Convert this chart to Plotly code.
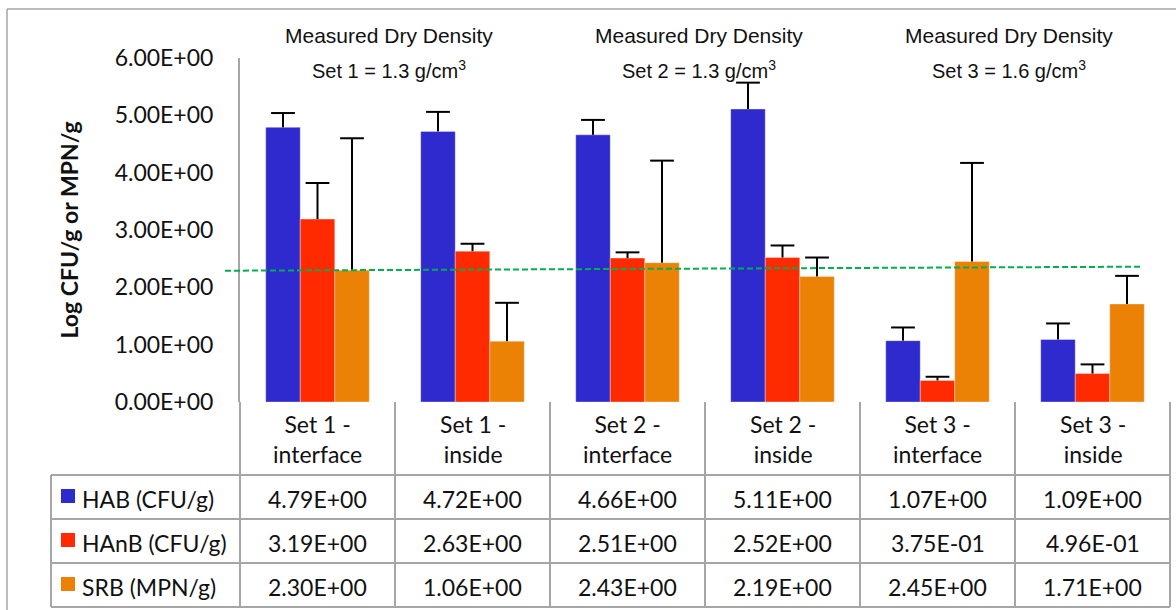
import plotly.graph_objects as go

# ---- data -------------------------------------------------------------
categories = ["Set 1 - interface", "Set 1 - inside", "Set 2 - interface",
              "Set 2 - inside", "Set 3 - interface", "Set 3 - inside"]
category_lines = [("Set 1 -", "interface"), ("Set 1 -", "inside"),
                  ("Set 2 -", "interface"), ("Set 2 -", "inside"),
                  ("Set 3 -", "interface"), ("Set 3 -", "inside")]

series_names = ["HAB (CFU/g)", "HAnB (CFU/g)", "SRB (MPN/g)"]
hab = [4.79, 4.72, 4.66, 5.11, 1.07, 1.09]
hanb = [3.19, 2.63, 2.51, 2.52, 0.375, 0.496]
srb = [2.30, 1.06, 2.43, 2.19, 2.45, 1.71]

hab_err = [0.25, 0.34, 0.26, 0.46, 0.23, 0.28]
hanb_err = [0.63, 0.13, 0.10, 0.21, 0.065, 0.16]
srb_err = [2.30, 0.67, 1.78, 0.33, 1.72, 0.49]

density_titles = ["Set 1 = 1.3 g/cm<sup>3</sup>",
                  "Set 2 = 1.3 g/cm<sup>3</sup>",
                  "Set 3 = 1.6 g/cm<sup>3</sup>"]

reference_level = [2.29, 2.36]   # dashed guide line (left end, right end)

y_ticks = [0, 1, 2, 3, 4, 5, 6]

colors = ["#2E2ACE", "#FF2A00", "#EC8205"]
values = [hab, hanb, srb]
errors = [hab_err, hanb_err, srb_err]

# ---- page geometry (pixels) ------------------------------------------
W, H = 1176, 610
PLOT_L, PLOT_R, PLOT_T, PLOT_B = 240, 1170, 58, 402
ROW_LINES = [475, 519, 563, 607]        # table row boundaries below the axis
LEGEND_L = 51
GRID = "#A6A6A6"
CAL = "Lato"
ARIAL = "Liberation Sans"
BAR_GAP = 0.332


def py(p):
    """pixel row -> paper y"""
    return (PLOT_B - p) / (PLOT_B - PLOT_T)


def px(p):
    """pixel column -> paper x"""
    return (p - PLOT_L) / (PLOT_R - PLOT_L)


fig = go.Figure()

# bars with upward-only error stems (caps added separately, top end only)
for name, vals, errs, col in zip(series_names, values, errors, colors):
    fig.add_trace(go.Bar(
        x=categories, y=vals, name=name, offsetgroup=name,
        marker=dict(color=col, line=dict(color="rgba(255,255,255,0.35)", width=1)),
        error_y=dict(type="data", array=errs, symmetric=False, arrayminus=[0] * len(errs),
                     color="black", thickness=2, width=0),
    ))

# caps at the top of each error stem, grouped the same way as the bars
for name, vals, errs in zip(series_names, values, errors):
    fig.add_trace(go.Scatter(
        x=categories, y=[v + e for v, e in zip(vals, errs)],
        mode="markers", offsetgroup=name, showlegend=False, hoverinfo="skip",
        marker=dict(symbol="line-ew", size=17, color="black",
                    line=dict(color="black", width=2)),
    ))

shapes = []
annotations = []
n = len(categories)

# outer chart frame (top and left edges)
shapes.append(dict(type="line", xref="paper", yref="paper",
                   x0=px(7), x1=px(W + 5), y0=py(9), y1=py(9),
                   line=dict(color=GRID, width=1.5)))
shapes.append(dict(type="line", xref="paper", yref="paper",
                   x0=px(7), x1=px(7), y0=py(9), y1=py(H + 5),
                   line=dict(color=GRID, width=1.5)))

# dashed reference line across the groups
shapes.append(dict(type="line", xref="paper", yref="y",
                   x0=px(225), x1=px(1143),
                   y0=reference_level[0], y1=reference_level[1],
                   line=dict(color="#00B050", width=2, dash="6px,3px")))

# data table: vertical separators at category boundaries
for k in range(n + 1):
    shapes.append(dict(type="line", xref="paper", yref="paper",
                       x0=k / n, x1=k / n, y0=0, y1=py(ROW_LINES[-1]),
                       line=dict(color=GRID, width=2)))
# data table: horizontal row lines
for r in ROW_LINES:
    shapes.append(dict(type="line", xref="paper", yref="paper",
                       x0=px(LEGEND_L), x1=1, y0=py(r), y1=py(r),
                       line=dict(color=GRID, width=2)))
shapes.append(dict(type="line", xref="paper", yref="paper",
                   x0=px(LEGEND_L), x1=px(LEGEND_L),
                   y0=py(ROW_LINES[0]), y1=py(ROW_LINES[-1]),
                   line=dict(color=GRID, width=2)))

# header row: category names
for cat, (l1, l2) in zip(categories, category_lines):
    annotations.append(dict(x=cat, xref="x", y=py(439), yref="paper",
                            text=f"{l1}<br>{l2}", showarrow=False,
                            font=dict(family=CAL, size=23, color="#111"),
                            xanchor="center", yanchor="middle", align="center"))

# value rows + legend keys
for i, (name, vals, col) in enumerate(zip(series_names, values, colors)):
    top, bot = ROW_LINES[i], ROW_LINES[i + 1]
    mid = (top + bot) / 2 + 2
    for cat, v in zip(categories, vals):
        annotations.append(dict(x=cat, xref="x", y=py(mid), yref="paper",
                                text=f"{v:.2E}", showarrow=False,
                                font=dict(family=CAL, size=23, color="#111"),
                                xanchor="center", yanchor="middle"))
    kc = mid - 3
    shapes.append(dict(type="rect", xref="paper", yref="paper",
                       x0=px(61), x1=px(75), y0=py(kc - 7), y1=py(kc + 7),
                       fillcolor=col, line=dict(width=0)))
    annotations.append(dict(x=px(80), xref="paper", y=py(mid), yref="paper",
                            text=name, showarrow=False,
                            font=dict(family=CAL, size=23, color="#111"),
                            xanchor="left", yanchor="middle"))

# density headings above each pair of groups
for g, sub in enumerate(density_titles):
    xc = (2 * g + 1) / n
    annotations.append(dict(x=xc, xref="paper", y=py(35), yref="paper",
                            text="Measured Dry Density", showarrow=False, xshift=-6,
                            font=dict(family=ARIAL, size=21, color="#111"),
                            xanchor="center", yanchor="middle"))
    annotations.append(dict(x=xc, xref="paper", y=py(70), yref="paper",
                            text=sub, showarrow=False, xshift=-6,
                            font=dict(family=ARIAL, size=20, color="#111"),
                            xanchor="center", yanchor="middle"))

fig.update_layout(
    width=W, height=H,
    margin=dict(l=PLOT_L, r=W - PLOT_R, t=PLOT_T, b=H - PLOT_B),
    paper_bgcolor="white", plot_bgcolor="white",
    barmode="group", bargap=BAR_GAP, bargroupgap=0,
    scattermode="group", scattergap=BAR_GAP,
    showlegend=False,
    shapes=shapes, annotations=annotations,
    xaxis=dict(showticklabels=False, ticks="", showgrid=False, zeroline=False,
               showline=False, range=[-0.5, n - 0.5]),
    yaxis=dict(range=[0, 6], tickvals=y_ticks,
               ticktext=[f"{v:.2E}" for v in y_ticks],
               tickfont=dict(family=CAL, size=23, color="#111"),
               ticks="", ticklabelstandoff=20,
               showgrid=False, zeroline=False,
               showline=True, linecolor=GRID, linewidth=2,
               title=dict(text="<b>Log CFU/g or MPN/g</b>", standoff=30,
                          font=dict(family=CAL, size=23, color="#111"))),
)

fig.write_html("out.html")
